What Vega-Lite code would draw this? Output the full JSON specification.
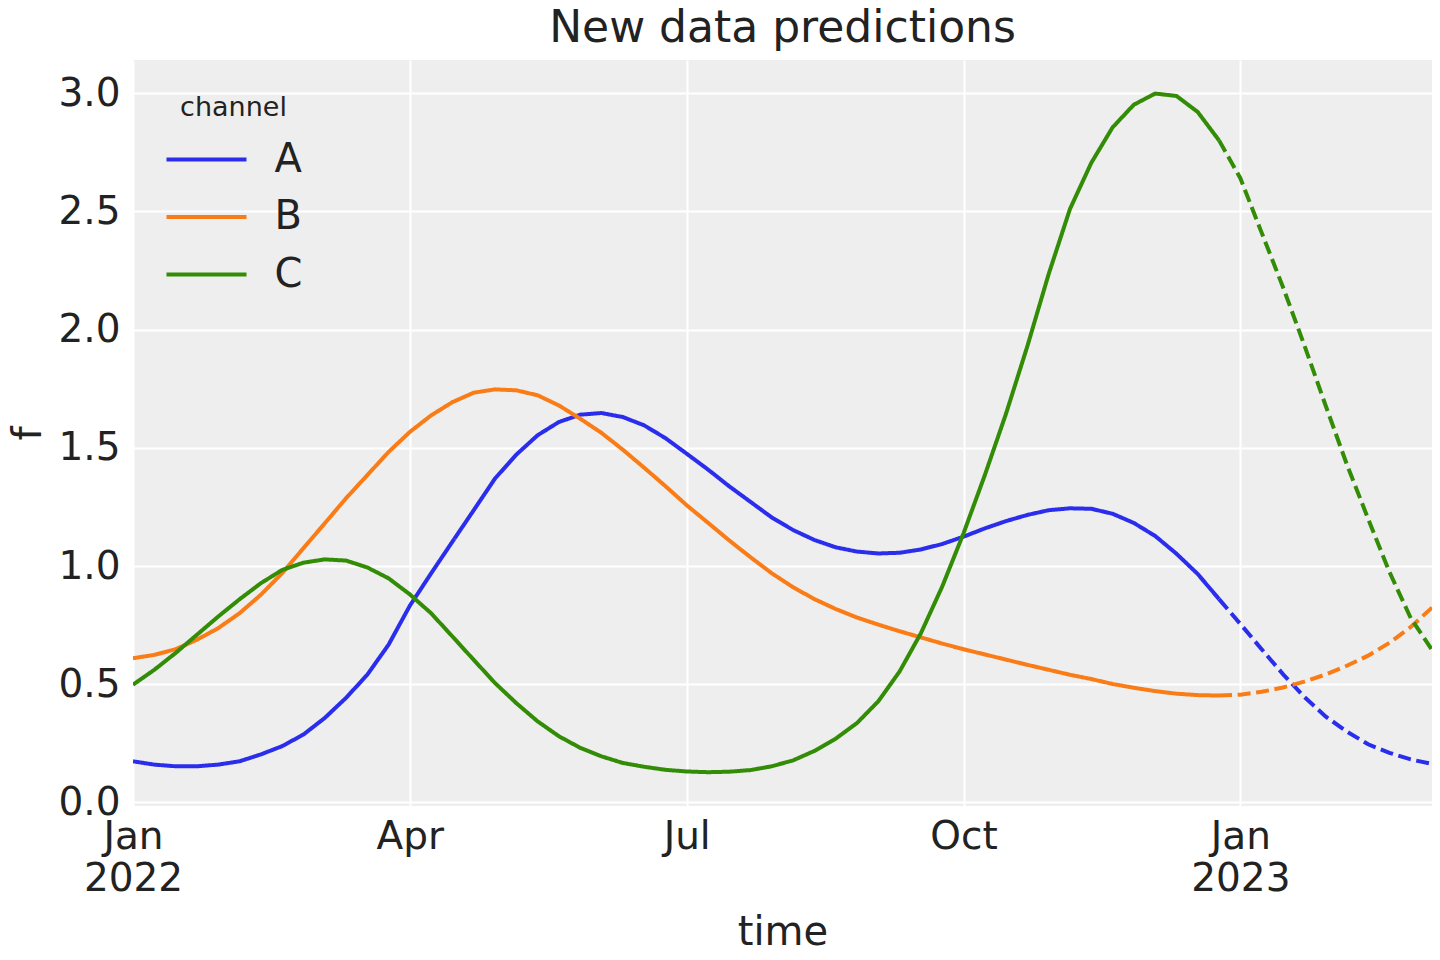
{
  "$schema": "https://vega.github.io/schema/vega-lite/v6.json",
  "width": 1299,
  "height": 746,
  "autosize": {"type": "none"},
  "padding": {"left": 133, "top": 60, "right": 8, "bottom": 154},
  "background": "white",
  "title": {"text": "New data predictions", "fontSize": 44, "font": "DejaVu Sans", "fontWeight": "normal", "color": "#222222", "anchor": "middle", "offset": 9},
  "data": {"values": [
    {"time": "2022-01-02", "part": "train", "A": 0.174, "B": 0.610, "C": 0.498},
    {"time": "2022-01-09", "part": "train", "A": 0.160, "B": 0.624, "C": 0.561},
    {"time": "2022-01-16", "part": "train", "A": 0.153, "B": 0.648, "C": 0.632},
    {"time": "2022-01-23", "part": "train", "A": 0.153, "B": 0.688, "C": 0.709},
    {"time": "2022-01-30", "part": "train", "A": 0.160, "B": 0.737, "C": 0.786},
    {"time": "2022-02-06", "part": "train", "A": 0.174, "B": 0.800, "C": 0.859},
    {"time": "2022-02-13", "part": "train", "A": 0.203, "B": 0.878, "C": 0.927},
    {"time": "2022-02-20", "part": "train", "A": 0.238, "B": 0.969, "C": 0.983},
    {"time": "2022-02-27", "part": "train", "A": 0.287, "B": 1.075, "C": 1.014},
    {"time": "2022-03-06", "part": "train", "A": 0.357, "B": 1.180, "C": 1.028},
    {"time": "2022-03-13", "part": "train", "A": 0.442, "B": 1.286, "C": 1.023},
    {"time": "2022-03-20", "part": "train", "A": 0.540, "B": 1.384, "C": 0.994},
    {"time": "2022-03-27", "part": "train", "A": 0.667, "B": 1.482, "C": 0.948},
    {"time": "2022-04-03", "part": "train", "A": 0.832, "B": 1.567, "C": 0.880},
    {"time": "2022-04-10", "part": "train", "A": 0.969, "B": 1.637, "C": 0.800},
    {"time": "2022-04-17", "part": "train", "A": 1.103, "B": 1.693, "C": 0.702},
    {"time": "2022-04-24", "part": "train", "A": 1.236, "B": 1.733, "C": 0.603},
    {"time": "2022-05-01", "part": "train", "A": 1.370, "B": 1.747, "C": 0.505},
    {"time": "2022-05-08", "part": "train", "A": 1.471, "B": 1.743, "C": 0.420},
    {"time": "2022-05-15", "part": "train", "A": 1.553, "B": 1.722, "C": 0.343},
    {"time": "2022-05-22", "part": "train", "A": 1.609, "B": 1.679, "C": 0.280},
    {"time": "2022-05-29", "part": "train", "A": 1.640, "B": 1.623, "C": 0.231},
    {"time": "2022-06-05", "part": "train", "A": 1.647, "B": 1.563, "C": 0.195},
    {"time": "2022-06-12", "part": "train", "A": 1.630, "B": 1.492, "C": 0.167},
    {"time": "2022-06-19", "part": "train", "A": 1.595, "B": 1.416, "C": 0.151},
    {"time": "2022-06-26", "part": "train", "A": 1.541, "B": 1.338, "C": 0.138},
    {"time": "2022-07-03", "part": "train", "A": 1.475, "B": 1.257, "C": 0.131},
    {"time": "2022-07-10", "part": "train", "A": 1.408, "B": 1.183, "C": 0.128},
    {"time": "2022-07-17", "part": "train", "A": 1.337, "B": 1.108, "C": 0.130},
    {"time": "2022-07-24", "part": "train", "A": 1.271, "B": 1.037, "C": 0.137},
    {"time": "2022-07-31", "part": "train", "A": 1.205, "B": 0.969, "C": 0.153},
    {"time": "2022-08-07", "part": "train", "A": 1.152, "B": 0.910, "C": 0.178},
    {"time": "2022-08-14", "part": "train", "A": 1.110, "B": 0.860, "C": 0.218},
    {"time": "2022-08-21", "part": "train", "A": 1.079, "B": 0.818, "C": 0.270},
    {"time": "2022-08-28", "part": "train", "A": 1.061, "B": 0.782, "C": 0.336},
    {"time": "2022-09-04", "part": "train", "A": 1.053, "B": 0.752, "C": 0.428},
    {"time": "2022-09-11", "part": "train", "A": 1.056, "B": 0.724, "C": 0.554},
    {"time": "2022-09-18", "part": "train", "A": 1.070, "B": 0.698, "C": 0.716},
    {"time": "2022-09-25", "part": "train", "A": 1.093, "B": 0.672, "C": 0.913},
    {"time": "2022-10-02", "part": "train", "A": 1.124, "B": 0.648, "C": 1.138},
    {"time": "2022-10-09", "part": "train", "A": 1.159, "B": 0.626, "C": 1.384},
    {"time": "2022-10-16", "part": "train", "A": 1.190, "B": 0.604, "C": 1.645},
    {"time": "2022-10-23", "part": "train", "A": 1.216, "B": 0.582, "C": 1.930},
    {"time": "2022-10-30", "part": "train", "A": 1.236, "B": 0.561, "C": 2.235},
    {"time": "2022-11-06", "part": "train", "A": 1.244, "B": 0.540, "C": 2.510},
    {"time": "2022-11-13", "part": "train", "A": 1.242, "B": 0.522, "C": 2.705},
    {"time": "2022-11-20", "part": "train", "A": 1.221, "B": 0.501, "C": 2.855},
    {"time": "2022-11-27", "part": "train", "A": 1.182, "B": 0.485, "C": 2.951},
    {"time": "2022-12-04", "part": "train", "A": 1.127, "B": 0.471, "C": 2.998},
    {"time": "2022-12-11", "part": "train", "A": 1.052, "B": 0.460, "C": 2.988},
    {"time": "2022-12-18", "part": "train", "A": 0.966, "B": 0.454, "C": 2.920},
    {"time": "2022-12-25", "part": "train", "A": 0.860, "B": 0.452, "C": 2.800},
    {"time": "2022-12-25", "part": "test", "A": 0.860, "B": 0.452, "C": 2.800},
    {"time": "2023-01-01", "part": "test", "A": 0.755, "B": 0.456, "C": 2.640},
    {"time": "2023-01-08", "part": "test", "A": 0.648, "B": 0.468, "C": 2.410},
    {"time": "2023-01-15", "part": "test", "A": 0.543, "B": 0.486, "C": 2.180},
    {"time": "2023-01-22", "part": "test", "A": 0.447, "B": 0.511, "C": 1.935},
    {"time": "2023-01-29", "part": "test", "A": 0.364, "B": 0.541, "C": 1.680},
    {"time": "2023-02-05", "part": "test", "A": 0.300, "B": 0.578, "C": 1.430},
    {"time": "2023-02-12", "part": "test", "A": 0.246, "B": 0.621, "C": 1.200},
    {"time": "2023-02-19", "part": "test", "A": 0.210, "B": 0.675, "C": 0.975},
    {"time": "2023-02-26", "part": "test", "A": 0.182, "B": 0.742, "C": 0.780},
    {"time": "2023-03-05", "part": "test", "A": 0.163, "B": 0.824, "C": 0.645}
  ]},
  "transform": [{"fold": ["A", "B", "C"], "as": ["channel", "f"]}],
  "mark": {"type": "line", "strokeWidth": 4, "clip": true},
  "encoding": {
    "x": {
      "field": "time", "type": "temporal",
      "scale": {"type": "utc", "domain": [{"year": 2022, "month": 1, "date": 2, "utc": true}, {"year": 2023, "month": 3, "date": 5, "utc": true}]},
      "axis": {
        "title": "time",
        "values": [
          {"year": 2022, "month": 1, "date": 2, "utc": true},
          {"year": 2022, "month": 4, "date": 3, "utc": true},
          {"year": 2022, "month": 7, "date": 3, "utc": true},
          {"year": 2022, "month": 10, "date": 2, "utc": true},
          {"year": 2023, "month": 1, "date": 1, "utc": true}
        ],
        "labelExpr": "utcmonth(datum.value) == 0 ? [utcFormat(datum.value, '%b'), utcFormat(datum.value, '%Y')] : utcFormat(datum.value, '%b')",
        "labelFlush": false,
        "labelOverlap": false,
        "labelBound": false,
        "labelAlign": "center",
        "labelBaseline": "top",
        "labelPadding": 11,
        "labelLineHeight": 42,
        "titlePadding": 14
      }
    },
    "y": {
      "field": "f", "type": "quantitative",
      "scale": {"domain": [-0.015, 3.14], "nice": false, "zero": false},
      "axis": {"title": "f", "values": [0, 0.5, 1, 1.5, 2, 2.5, 3], "format": ".1f", "labelPadding": 13, "titlePadding": 9}
    },
    "color": {
      "field": "channel", "type": "nominal",
      "scale": {"domain": ["A", "B", "C"], "range": ["#2a2eec", "#fa7c17", "#328c06"]},
      "legend": {
        "orient": "none", "legendX": 31.5, "legendY": 35,
        "title": "channel", "titleFontSize": 27, "titleFont": "DejaVu Sans", "titleFontWeight": "normal", "titleColor": "#222222",
        "titleAnchor": "middle", "titleAlign": "center", "titlePadding": 17.5,
        "labelFontSize": 40, "labelFont": "DejaVu Sans", "labelColor": "#222222", "labelOffset": 26,
        "symbolType": "stroke", "symbolSize": 6400, "symbolStrokeWidth": 4,
        "rowPadding": 17.5, "clipHeight": 40, "padding": 0
      }
    },
    "strokeDash": {
      "field": "part", "type": "nominal",
      "scale": {"domain": ["train", "test"], "range": [[1, 0], [13, 5.6]]},
      "legend": null
    }
  },
  "config": {
    "view": {"fill": "#eeeeee", "stroke": null},
    "font": "DejaVu Sans",
    "axis": {
      "domain": false, "ticks": false, "tickSize": 0,
      "grid": true, "gridColor": "#ffffff", "gridWidth": 2,
      "labelFont": "DejaVu Sans", "labelFontSize": 39, "labelColor": "#222222",
      "titleFont": "DejaVu Sans", "titleFontSize": 40, "titleFontWeight": "normal", "titleColor": "#222222"
    }
  }
}
